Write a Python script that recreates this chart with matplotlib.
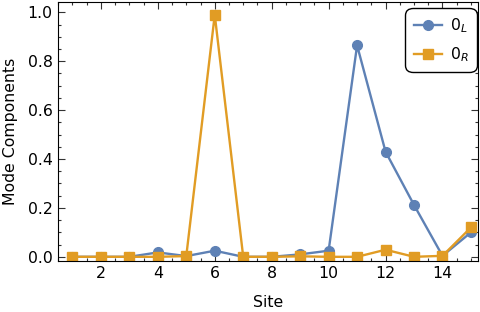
import numpy as np
import matplotlib.pyplot as plt
from matplotlib.ticker import MultipleLocator

# data
sites = list(range(1, 16))
mode_0L = [0.0, 0.0, 0.0, 0.018, 0.003, 0.025, 0.0, 0.0, 0.01, 0.025,
           0.865, 0.43, 0.212, 0.004, 0.10]
mode_0R = [0.0, 0.0, 0.0, 0.0, 0.003, 0.99, 0.0, 0.0, 0.002, 0.0,
           0.0, 0.029, 0.0, 0.004, 0.12]

blue = '#5E81B5'
orange = '#E19C24'

plt.rcParams['font.family'] = 'DejaVu Sans'
fig = plt.figure(figsize=(4.8, 3.12), dpi=100)
ax = fig.add_axes([0.12, 0.162, 0.876, 0.832])

ax.plot(sites, mode_0L, '-o', color=blue, lw=1.7, ms=7, label='$0_L$')
ax.plot(sites, mode_0R, '-s', color=orange, lw=1.7, ms=6.5, label='$0_R$')

ax.set_xlim(0.48, 15.25)
ax.set_ylim(-0.019, 1.043)
ax.xaxis.set_minor_locator(MultipleLocator(0.5))
ax.yaxis.set_minor_locator(MultipleLocator(0.05))
ax.set_xticks([2, 4, 6, 8, 10, 12, 14])
ax.set_yticks([0.0, 0.2, 0.4, 0.6, 0.8, 1.0])
ax.tick_params(which='both', direction='in', top=True, right=True,
               labelsize=11.3, width=0.8, color='#333333')
ax.tick_params(which='major', length=5)
ax.tick_params(which='minor', length=2.5)
for s in ax.spines.values():
    s.set_linewidth(0.8)

ax.set_xlabel('Site', fontsize=11.3, labelpad=10)
ax.set_ylabel('Mode Components', fontsize=11.3, labelpad=7)

leg = ax.legend(loc='upper right', bbox_to_anchor=(0.998, 0.978),
                fontsize=11.3, frameon=True, fancybox=True,
                edgecolor='black', framealpha=1, handlelength=1.8,
                handletextpad=0.5, borderpad=0.55, labelspacing=0.65,
                borderaxespad=0.0)
leg.get_frame().set_linewidth(1.0)
leg.get_frame().set_boxstyle('round', pad=0, rounding_size=0.5)

fig.savefig('out.png', dpi=100)
